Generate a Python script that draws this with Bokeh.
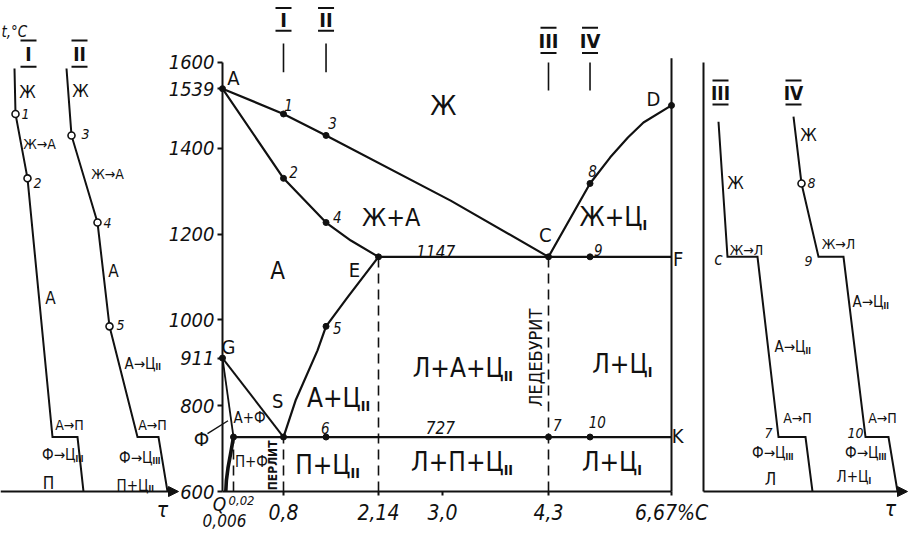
import numpy as np
from bokeh.plotting import figure
from bokeh.models import Range1d, LinearAxis, FixedTicker, Arrow, NormalHead, ColumnDataSource
from bokeh.core.properties import value
from bokeh.embed import file_html
from bokeh.resources import INLINE

# ------------------------------------------------------------------ data
# Fe–Fe3C diagram lines: carbon, wt % / temperature, °C
LIQ_AC_C = [0.0, 0.8, 1.4, 3.1, 4.3]
LIQ_AC_T = [1539, 1480, 1430, 1278, 1147]
LIQ_CD_C = [4.3, 5.1, 5.49, 5.83, 6.13, 6.67]
LIQ_CD_T = [1147, 1318, 1379, 1425, 1460, 1500]
SOL_AE_C = [0.0, 0.8, 1.4, 1.75, 2.14]
SOL_AE_T = [1539, 1330, 1227, 1185, 1147]
ACM_SE_C = [0.8, 0.97, 1.28, 1.4, 1.70, 2.14]
ACM_SE_T = [727, 812, 929, 985, 1052, 1147]
GS_C = [0.0, 0.8]
GS_T = [911, 727]
GP_C = [0.0, 0.02]
GP_T = [911, 727]
PQ_C = [0.02, 0.015, 0.01, 0.007, 0.006]
PQ_T = [727, 690, 655, 625, 600]
ECF_C = [2.14, 6.67]
ECF_T = [1147, 1147]
PSK_C = [0.02, 6.67]
PSK_T = [727, 727]
FE3C_C = [6.67, 6.67]
FE3C_T = [600, 1610]
DASH_C = [0.02, 0.8, 2.14, 4.3]
DASH_TOP = [727, 727, 1147, 1147]
DASH_BOT = [600, 600, 600, 600]

# marked points of the diagram
PT_C = [0.0, 0.8, 1.4, 0.8, 1.4, 2.14, 4.3, 5.1, 6.67, 0.0, 0.02, 0.8, 1.4, 1.4, 4.3, 5.1, 5.1]
PT_T = [1539, 1480, 1430, 1330, 1227, 1147, 1147, 1318, 1500, 911, 727, 727, 985, 727, 727, 727, 1147]

# alloys I–IV
ALLOY_NAMES = ["I", "II", "III", "IV"]
ALLOY_C = [0.8, 1.4, 4.3, 5.1]

# axes
T_TICKS = [600, 800, 911, 1000, 1200, 1400, 1539, 1600]
C_TICKS = [0.8, 2.14, 3.0, 4.3, 6.67]
C_TICK_LABELS = ["0,8", "2,14", "3,0", "4,3", "6,67%C"]

# cooling curves (time in arbitrary units, temperature °C)
CURVE_I_t = [14, 15, 27, 52, 77, 83]
CURVE_I_T = [1586, 1480, 1330, 727, 727, 600]
CURVE_II_t = [66, 71, 97, 109, 137, 158, 167]
CURVE_II_T = [1586, 1430, 1227, 985, 727, 727, 600]
CURVE_III_t = [15, 24, 54, 75, 102, 109]
CURVE_III_T = [1462, 1147, 1147, 727, 727, 600]
CURVE_IV_t = [90, 98, 115, 140, 162, 185, 194]
CURVE_IV_T = [1474, 1318, 1147, 1147, 727, 727, 600]
LEFT_PT_t = [15, 27, 71, 97, 109]
LEFT_PT_T = [1480, 1330, 1430, 1227, 985]
RIGHT_PT_t = [98]
RIGHT_PT_T = [1318]

# ------------------------------------------------------------------ layout
INK = "#111111"
FONT = "'Liberation Sans Narrow', 'DejaVu Sans Condensed', 'Arial Narrow', sans-serif"
# the drawing's composition axis is hand-spaced: knots of that spacing
C_KNOTS = [-1.0, 0.0, 0.02, 0.8, 2.14, 3.0, 4.3, 6.67, 7.5]
W_KNOTS = [-60, 0, 11, 61, 156, 220, 326, 449, 492]
X_MAIN = 222     # position of 0 %C
X_LEFT = 0       # time origin, curves I, II
X_RIGHT = 703    # time origin, curves III, IV


def cx(c):
    return X_MAIN + np.interp(np.asarray(c, float), C_KNOTS, W_KNOTS)


def tl(t):
    return X_LEFT + np.asarray(t, float)


def tr(t):
    return X_RIGHT + np.asarray(t, float)


p = figure(width=913, height=544, x_range=Range1d(0, 913), y_range=Range1d(476.5, 1744.5),
           output_backend="svg", toolbar_location=None,
           x_axis_location=None, y_axis_location=None, min_border=0,
           outline_line_color=None, background_fill_color="white", border_fill_color="white")
p.xgrid.visible = False
p.ygrid.visible = False


def txt(xs, ys, labels, size, style="normal", align="center", baseline="middle", angle=0.0, yoff=0):
    src = ColumnDataSource(dict(x=[float(v) for v in xs], y=[float(v) for v in ys], t=list(labels)))
    p.text("x", "y", "t", source=src, text_font=value(FONT), text_font_size=value(f"{size}px"),
           text_font_style=style, text_align=align, text_baseline=baseline, angle=angle,
           y_offset=yoff, text_color=INK)


def sub_txt(xs, ys, bases, subs, size, style="normal"):
    txt(xs, ys, bases, size, style, align="right")
    txt(xs, ys, subs, round(size * 0.55), "bold", align="left", yoff=round(size * 0.3))


# ------------------------------------------------------------------ axes
axis_style = dict(axis_line_color=INK, axis_line_width=2, major_tick_line_color=INK,
                  major_tick_line_width=2, major_tick_in=0, minor_tick_in=0, minor_tick_out=0,
                  major_label_text_font=FONT, major_label_text_color=INK,
                  major_label_text_font_style="italic")
yax = LinearAxis(fixed_location=X_MAIN, bounds=(600, 1600), ticker=FixedTicker(ticks=T_TICKS),
                 major_tick_out=5, major_label_standoff=3, major_label_text_font_size="20px", **axis_style)
p.add_layout(yax, "left")
xt = [float(v) for v in cx(C_TICKS)]
xax = LinearAxis(fixed_location=600, bounds=(X_MAIN, float(cx(6.67))), ticker=FixedTicker(ticks=xt),
                 major_label_overrides={v: s for v, s in zip(xt, C_TICK_LABELS)},
                 major_tick_out=4, major_label_standoff=5, major_label_text_font_size="21px", **axis_style)
p.add_layout(xax, "below")
rax = LinearAxis(fixed_location=X_RIGHT, bounds=(600, 1600), ticker=FixedTicker(ticks=[]),
                 axis_line_color=INK, axis_line_width=2)
p.add_layout(rax, "left")
for xs, xe in [(tl(0), tl(178)), (tr(0), tr(204))]:
    p.add_layout(Arrow(end=NormalHead(size=10, line_color=INK, fill_color=INK),
                       x_start=float(xs), y_start=600, x_end=float(xe), y_end=600,
                       line_color=INK, line_width=2))

# ------------------------------------------------------------------ diagram lines
for cs, ts, lw in [(LIQ_AC_C, LIQ_AC_T, 2.2), (LIQ_CD_C, LIQ_CD_T, 2.2), (SOL_AE_C, SOL_AE_T, 2.2),
                   (ACM_SE_C, ACM_SE_T, 2.2), (GS_C, GS_T, 2.0), (GP_C, GP_T, 1.8),
                   (ECF_C, ECF_T, 2.2), (PSK_C, PSK_T, 2.2), (FE3C_C, FE3C_T, 2.0), (PQ_C, PQ_T, 3.6)]:
    p.line(cx(cs), ts, line_color=INK, line_width=lw, line_join="round")
p.segment(cx(DASH_C), DASH_BOT, cx(DASH_C), DASH_TOP, line_color=INK, line_width=1.6, line_dash="10 6")
p.scatter(cx(PT_C), PT_T, size=6, color=INK)

# alloy markers on top
ax_ = cx(ALLOY_C)
hdr_T = [1700, 1700, 1651, 1651]
bar_hi = [1727, 1727, 1681, 1681]
bar_lo = [1674, 1674, 1622, 1622]
tick_hi = [1644, 1644, 1600, 1600]
tick_lo = [1577, 1577, 1535, 1535]
txt(ax_, hdr_T, ALLOY_NAMES, 20, "bold")
p.segment(ax_ - 8, bar_hi, ax_ + 8, bar_hi, line_color=INK, line_width=2)
p.segment(ax_ - 8, bar_lo, ax_ + 8, bar_lo, line_color=INK, line_width=2)
p.segment(ax_, tick_hi, ax_, tick_lo, line_color=INK, line_width=1.6)

# ------------------------------------------------------------------ diagram texts
txt(cx([3.01]), [1500], ["Ж"], 27)
txt(cx([2.31]), [1239], ["Ж+А"], 25)
txt(cx([0.71]), [1115], ["А"], 24)
txt(cx([0.02, 1.80, 4.26, 6.80, 6.32, 0.011, 0.71, 6.79]),
    [1563, 1117, 1197, 1143, 1516, 936, 812, 730],
    ["A", "E", "C", "F", "D", "G", "S", "K"], 20)
txt(cx([0.87, 1.49, 0.94, 1.56, 5.26, 5.15, 1.56, 1.39, 4.47, 5.24]),
    [1500, 1458, 1344, 1239, 1162, 1348, 980, 747, 754, 761],
    ["1", "3", "2", "4", "9", "8", "5", "6", "7", "10"], 15, "italic")
txt(cx([2.91, 2.97]), [1159, 749], ["1147", "727"], 17, "italic")
txt(cx([0.27, 0.30]), [772, 668], ["А+Ф", "П+Ф"], 15)
txt(cx([-0.35]), [723], ["Ф"], 20)
p.segment(cx([-0.25]), [735], cx([0.01]), [765], line_color=INK, line_width=1.4)
txt(cx([0.63]), [661], ["ПЕРЛИТ"], 12, "bold", angle=np.pi / 2)
txt(cx([4.14]), [912], ["ЛЕДЕБУРИТ"], 18, angle=np.pi / 2)
sub_txt(cx([6.11, 1.89, 1.745, 3.75, 6.21, 3.75, 6.01]),
        [1239, 819, 661, 889, 898, 668, 668],
        ["Ж+Ц", "А+Ц", "П+Ц", "Л+А+Ц", "Л+Ц", "Л+П+Ц", "Л+Ц"],
        ["I", "II", "II", "II", "I", "II", "I"], 26)
txt(cx([-0.05]), [572], ["Q"], 19, "italic")
txt(cx([0.145]), [580], ["0,02"], 13, "italic")
txt(cx([0.0036]), [532], ["0,006"], 17, "italic")

# ------------------------------------------------------------------ cooling curves
for ts_, Ts_, f in [(CURVE_I_t, CURVE_I_T, tl), (CURVE_II_t, CURVE_II_T, tl),
                    (CURVE_III_t, CURVE_III_T, tr), (CURVE_IV_t, CURVE_IV_T, tr)]:
    p.line(f(ts_), Ts_, line_color=INK, line_width=2, line_join="miter")
p.scatter(tl(LEFT_PT_t), LEFT_PT_T, size=7, fill_color="white", line_color=INK, line_width=1.6)
p.scatter(tr(RIGHT_PT_t), RIGHT_PT_T, size=7, fill_color="white", line_color=INK, line_width=1.6)

# headers of cooling curves
hx = np.concatenate([tl([28, 79]), tr([17, 90])])
hy = [1619, 1619, 1530, 1530]
txt(hx, hy, ALLOY_NAMES, 19, "bold")
hb = [1651, 1651, 1558, 1558]
hl = [1590, 1590, 1502, 1502]
p.segment(hx - 8, hb, hx + 8, hb, line_color=INK, line_width=2)
p.segment(hx - 8, hl, hx + 8, hl, line_color=INK, line_width=2)
txt(tl([1]), [1672], ["t,°C"], 15, "italic", align="left")

# labels along cooling curves
txt(np.concatenate([tl([27, 80, 50, 113, 48]), tr([32, 105, 67])]),
    [1532, 1534, 1052, 1115, 619, 1320, 1430, 630],
    ["Ж", "Ж", "А", "А", "П", "Ж", "Ж", "Л"], 17)
txt(np.concatenate([tl([39, 107, 69, 152]), tr([43, 135, 94, 179])]),
    [1411, 1341, 754, 754, 1162, 1176, 772, 772],
    ["Ж→А", "Ж→А", "А→П", "А→П", "Ж→Л", "Ж→Л", "А→П", "А→П"], 14)
txt(np.concatenate([tl([25, 37, 85, 107, 120]), tr([65, 108, 105, 152])]),
    [1481, 1320, 1434, 1225, 987, 737, 1320, 1138, 737],
    ["1", "2", "3", "4", "5", "7", "8", "9", "10"], 14, "italic")
txt(tr([15]), [1143], ["c"], 17, "italic")
sub_txt(np.concatenate([tl([75, 155, 152, 148]), tr([102, 82, 180, 175, 165])]),
        [684, 898, 679, 614, 936, 689, 1041, 689, 633],
        ["Ф→Ц", "А→Ц", "Ф→Ц", "П+Ц", "А→Ц", "Ф→Ц", "А→Ц", "Ф→Ц", "Л+Ц"],
        ["III", "II", "III", "II", "II", "III", "II", "III", "I"], 15)
txt(np.concatenate([tl([162]), tr([187])]), [556, 560], ["τ", "τ"], 21, "italic")

open("out.html", "w").write(file_html(p, INLINE))
